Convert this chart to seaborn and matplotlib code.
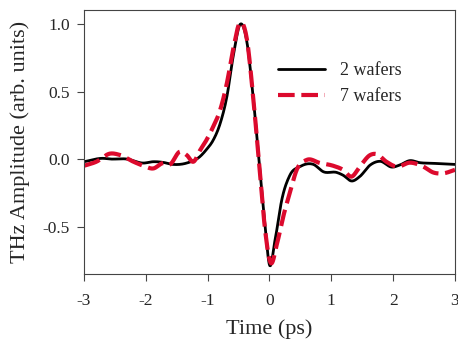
import numpy as np
import pandas as pd
import seaborn as sns
import matplotlib.pyplot as plt

# values
t_2w = [-3.0, -2.69, -2.58, -2.31, -2.04, -1.88, -1.72, -1.56, -1.34, -1.12, -1.02,
        -0.91, -0.80, -0.69, -0.58, -0.47, -0.37, -0.26, -0.15, -0.07, 0.0, 0.09,
        0.20, 0.33, 0.49, 0.71, 0.87, 1.09, 1.19, 1.33, 1.46, 1.63, 1.79, 1.98,
        2.11, 2.27, 2.43, 2.65, 3.0]
amp_2w = [-0.02, 0.005, 0.0, 0.0, -0.03, -0.02, -0.025, -0.04, -0.03, 0.02, 0.07,
          0.14, 0.26, 0.46, 0.78, 1.0, 0.88, 0.44, -0.11, -0.5, -0.785, -0.6,
          -0.30, -0.12, -0.057, -0.04, -0.094, -0.10, -0.12, -0.163, -0.13, -0.044, -0.017, -0.06,
          -0.044, -0.012, -0.027, -0.032, -0.04]

t_7w = [-3.0, -2.80, -2.58, -2.42, -2.20, -2.04, -1.88, -1.72, -1.61, -1.45, -1.34,
        -1.23, -1.12, -1.02, -0.91, -0.80, -0.69, -0.58, -0.49, -0.37, -0.26, -0.15,
        -0.07, 0.02, 0.12, 0.22, 0.33, 0.44, 0.60, 0.82, 1.03, 1.19, 1.33, 1.46,
        1.63, 1.73, 1.89, 2.06, 2.27, 2.49, 2.65, 2.81, 3.0]
amp_7w = [-0.05, -0.02, 0.04, 0.03, -0.02, -0.05, -0.07, -0.03, -0.04, 0.054, 0.03,
          -0.02, 0.067, 0.14, 0.24, 0.36, 0.56, 0.83, 1.0, 0.9, 0.44, -0.13,
          -0.53, -0.77, -0.63, -0.43, -0.25, -0.08, -0.007, -0.03, -0.05, -0.08, -0.13, -0.057,
          0.03, 0.037, -0.02, -0.057, -0.027, -0.057, -0.1, -0.106, -0.08]

x_ticks = [-3, -2, -1, 0, 1, 2, 3]
x_labels = ["-3", "-2", "-1", "0", "1", "2", "3"]
y_ticks = [-0.5, 0.0, 0.5, 1.0]
y_labels = ["-0.5", "0.0", "0.5", "1.0"]


def smooth(t, a, n=600):
    # cubic hermite pass through the read points, just to draw them round
    t = np.asarray(t, float)
    a = np.asarray(a, float)
    tt = np.linspace(t[0], t[-1], n)
    m = np.gradient(a, t)
    idx = np.clip(np.searchsorted(t, tt) - 1, 0, len(t) - 2)
    h = t[idx + 1] - t[idx]
    s = (tt - t[idx]) / h
    h00 = 2 * s**3 - 3 * s**2 + 1
    h10 = s**3 - 2 * s**2 + s
    h01 = -2 * s**3 + 3 * s**2
    h11 = s**3 - s**2
    yy = h00 * a[idx] + h10 * h * m[idx] + h01 * a[idx + 1] + h11 * h * m[idx + 1]
    return tt, yy


sns.set_style("ticks")
plt.rcParams["font.family"] = ["Liberation Serif", "DejaVu Serif"]

fig = plt.figure(figsize=(4.58, 3.39), dpi=100)
ax = fig.add_axes([0.1834, 0.1917, 0.81, 0.7788])

tx, ty = smooth(t_2w, amp_2w)
df2 = pd.DataFrame({"t": tx, "a": ty})
tx, ty = smooth(t_7w, amp_7w)
df7 = pd.DataFrame({"t": tx, "a": ty})

sns.lineplot(data=df2, x="t", y="a", ax=ax, color="black", lw=2, label="2 wafers")
sns.lineplot(data=df7, x="t", y="a", ax=ax, color="#dc0a2d", lw=3,
             dashes=False, label="7 wafers")
ax.lines[1].set_dashes([4, 1.6])

ax.set_xlim(-3, 3)
ax.set_ylim(-0.852, 1.104)
ax.set_xticks(x_ticks)
ax.set_xticklabels(x_labels)
ax.set_yticks(y_ticks)
ax.set_yticklabels(y_labels)
ax.tick_params(labelsize=12.5, direction="out", length=5, width=0.8, color="#444444")
ax.tick_params(axis="x", pad=9)
ax.tick_params(axis="y", pad=5)
for sp in ax.spines.values():
    sp.set_linewidth(0.8)
    sp.set_color("#444444")
ax.set_xlabel("Time (ps)", fontsize=16, labelpad=7)
ax.set_ylabel("THz Amplitude (arb. units)", fontsize=16, labelpad=9)

leg = ax.legend(loc="upper left", bbox_to_anchor=(0.48, 0.865), frameon=False,
                fontsize=13, handlelength=2.6, labelspacing=0.5)

fig.savefig("out.png", dpi=100)
